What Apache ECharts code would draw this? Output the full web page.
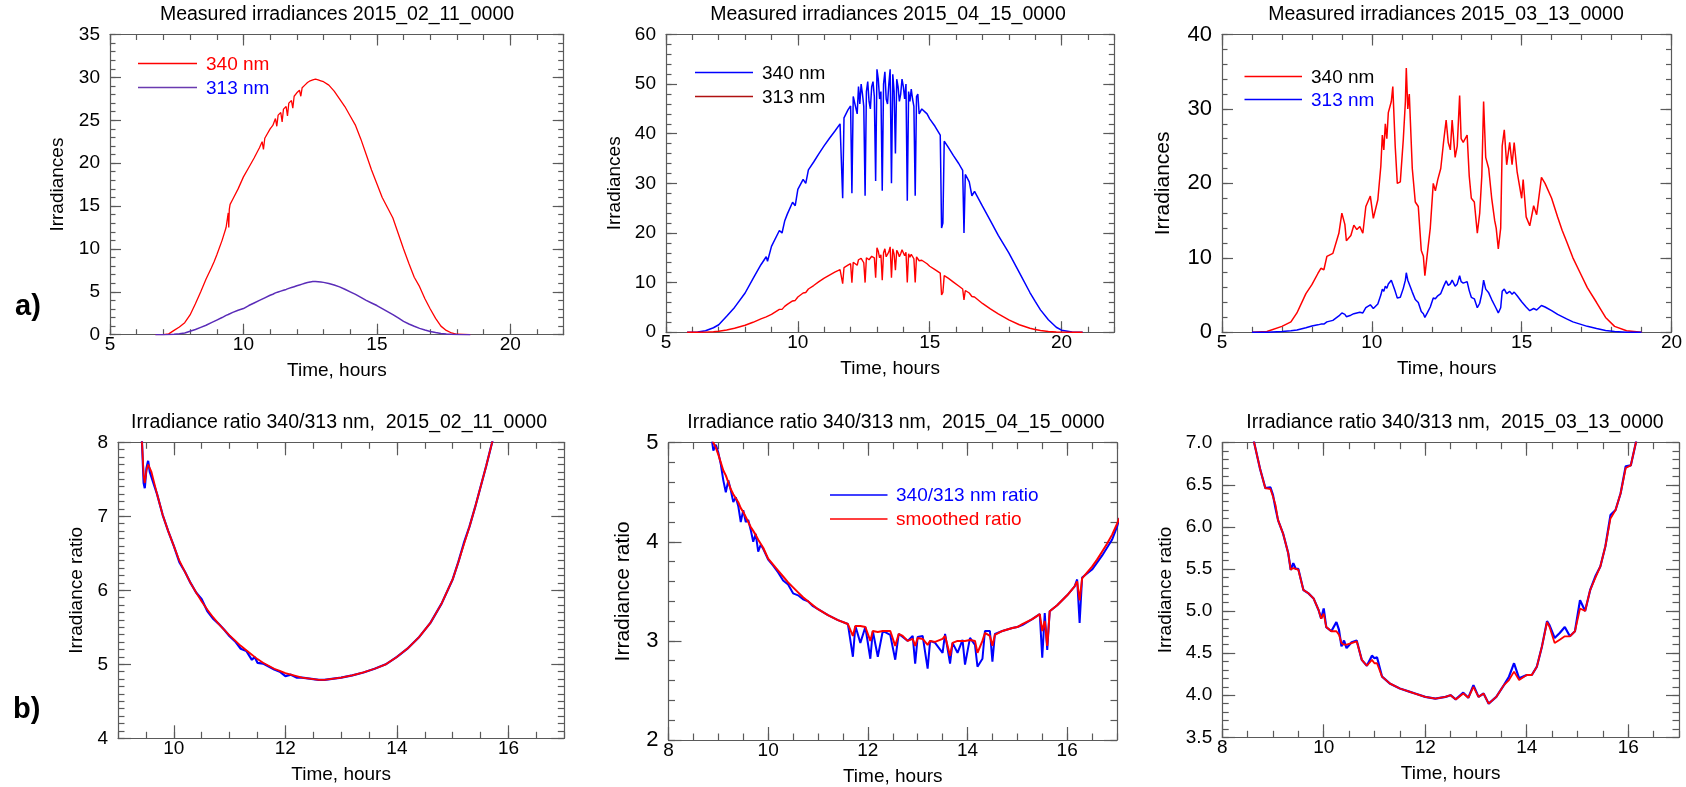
<!DOCTYPE html>
<html><head><meta charset="utf-8">
<script src="https://cdn.jsdelivr.net/npm/echarts@6/dist/echarts.min.js"></script>
<style>html,body{margin:0;padding:0;background:#fff}#chart{width:1686px;height:787px}</style>
</head><body><div id="chart"></div>
<script>
// ---------------- DATA ----------------
// Panel 1: Measured irradiances 2015_02_11
const febTime = [6.7,7.0,7.2,7.4,7.6,7.8,8.0,8.2,8.4,8.6,8.8,8.9,9.0,9.2,9.35,9.43,9.45,9.47,9.5,9.6,9.8,10.0,10.2,10.4,10.6,10.7,10.75,10.8,11.0,11.1,11.2,11.25,11.3,11.4,11.45,11.5,11.6,11.65,11.7,11.8,11.85,11.9,12.0,12.1,12.15,12.2,12.3,12.4,12.5,12.6,12.7,12.8,12.9,13.0,13.2,13.4,13.6,13.8,14.0,14.2,14.4,14.6,14.8,15.0,15.2,15.4,15.6,15.8,16.0,16.2,16.4,16.6,16.8,17.0,17.2,17.4,17.6,17.8,18.0,18.5];
const febIrr340 = [0,0,0.1,0.5,0.9,1.4,2.3,3.6,5.0,6.5,7.8,8.5,9.3,11.0,12.5,14.2,12.5,14.6,15.2,15.8,17.0,18.4,19.5,20.6,21.8,22.5,21.6,22.9,24.0,24.4,25.2,24.3,25.6,25.9,24.8,26.3,26.6,25.5,27.0,27.3,26.4,27.8,28.2,28.5,27.8,28.8,29.1,29.4,29.6,29.7,29.8,29.7,29.6,29.5,29.1,28.4,27.5,26.6,25.5,24.4,22.8,21.0,19.2,17.6,16.0,14.8,13.6,11.8,10.0,8.3,6.7,5.6,4.2,3.0,1.9,1.0,0.5,0.2,0.05,0];
const febIrr313 = [0,0,0.02,0.05,0.1,0.2,0.4,0.6,0.85,1.1,1.4,1.55,1.7,2.0,2.25,2.35,2.3,2.4,2.45,2.6,2.85,3.05,3.4,3.7,4.0,4.15,4.15,4.3,4.6,4.72,4.88,4.9,4.98,5.08,5.1,5.18,5.28,5.3,5.4,5.5,5.52,5.6,5.7,5.8,5.82,5.9,6.0,6.08,6.15,6.2,6.2,6.18,6.15,6.1,5.98,5.8,5.58,5.3,5.0,4.7,4.35,4.0,3.7,3.4,3.05,2.7,2.35,1.95,1.55,1.25,0.98,0.74,0.54,0.38,0.25,0.15,0.08,0.04,0.02,0];

// Panel 2: Measured irradiances 2015_04_15
const aprTime = [5.8,6.2,6.5,6.8,7.0,7.3,7.6,8.0,8.3,8.6,8.8,8.85,9.0,9.3,9.4,9.5,9.6,9.8,9.9,10.0,10.2,10.3,10.4,10.6,10.8,11.0,11.2,11.4,11.6,11.7,11.75,11.9,12.0,12.05,12.1,12.25,12.3,12.35,12.4,12.45,12.5,12.55,12.6,12.65,12.7,12.75,12.8,12.85,12.9,12.95,13.0,13.05,13.1,13.15,13.2,13.25,13.3,13.35,13.4,13.45,13.5,13.55,13.6,13.65,13.7,13.75,13.8,13.85,13.9,13.95,14.0,14.05,14.1,14.15,14.2,14.25,14.3,14.35,14.4,14.45,14.5,14.55,14.6,14.7,14.9,15.0,15.2,15.4,15.45,15.5,15.55,15.7,15.9,16.1,16.25,16.3,16.35,16.5,16.6,16.7,17.0,17.3,17.6,18.0,18.4,18.8,19.0,19.2,19.5,19.8,20.0,20.4,20.8];
const aprIrr340 = [0,0.05,0.3,0.9,1.5,3.2,5.0,7.9,10.8,13.6,15.2,14.3,17.3,20.5,20.0,22.4,23.8,26.2,25.5,28.8,30.8,30.0,32.7,34.3,36.0,37.6,39.1,40.5,42.0,27.0,43.2,44.8,45.6,28.0,47.5,44.0,49.5,46.0,50.0,48.0,45.5,27.5,48.5,50.5,46.5,45.0,49.5,50.5,47.5,30.5,53.0,51.0,47.0,48.5,28.5,50.0,52.5,47.0,46.0,50.0,53.0,30.0,52.0,48.5,36.0,51.0,49.5,46.5,48.0,51.0,49.5,47.0,50.0,26.5,48.5,46.5,49.0,47.0,45.5,27.5,47.5,48.0,44.0,45.0,44.0,43.0,41.5,39.7,21.0,22.0,38.5,37.3,35.6,34.0,32.6,20.0,31.8,30.3,27.5,28.4,25.4,22.5,19.5,16.0,12.0,8.0,6.2,4.5,2.5,1.0,0.4,0.05,0];
const aprIrr313 = [0,0,0.02,0.1,0.2,0.45,0.8,1.4,2.0,2.7,3.1,2.9,3.6,4.6,4.6,5.2,5.6,6.3,6.4,7.1,7.9,8.0,8.7,9.4,10.2,10.9,11.5,12.1,12.6,9.8,13.0,13.5,13.8,10.0,14.1,13.5,14.6,14.2,14.9,14.5,14.0,10.0,15.0,15.4,14.6,14.2,15.3,15.6,15.0,11.0,17.0,16.3,15.0,15.6,10.5,16.0,16.8,15.2,15.0,16.2,17.2,11.0,16.8,15.7,12.5,16.5,16.0,15.2,15.8,16.6,16.2,15.4,16.1,10.0,15.8,15.1,15.7,15.3,14.8,10.0,15.2,15.1,14.4,14.5,13.8,13.3,12.6,11.9,7.5,8.0,11.4,10.9,10.1,9.3,8.7,6.5,8.4,7.9,7.2,7.1,5.8,4.7,3.7,2.5,1.5,0.8,0.55,0.35,0.15,0.05,0.02,0,0];

// Panel 3: Measured irradiances 2015_03_13
const marTime = [6.0,6.5,7.0,7.3,7.5,7.8,8.0,8.2,8.3,8.4,8.5,8.7,8.9,9.0,9.1,9.15,9.3,9.4,9.5,9.6,9.7,9.8,9.95,10.05,10.2,10.3,10.35,10.4,10.45,10.5,10.55,10.65,10.7,10.78,10.85,10.95,11.05,11.12,11.15,11.2,11.25,11.35,11.45,11.55,11.65,11.72,11.77,11.85,11.95,12.05,12.12,12.2,12.3,12.4,12.48,12.55,12.62,12.68,12.78,12.85,12.93,12.98,13.05,13.18,13.25,13.32,13.42,13.52,13.6,13.67,13.73,13.8,13.9,14.0,14.1,14.15,14.22,14.3,14.35,14.42,14.5,14.6,14.68,14.75,14.85,15.0,15.05,15.15,15.27,15.4,15.5,15.66,15.78,16.0,16.2,16.35,16.5,16.71,16.95,17.19,17.5,17.8,18.1,18.5,19.0];
const marIrr340 = [0,0.1,0.8,1.4,2.6,5.2,6.4,7.9,8.6,8.4,10.2,10.6,13.3,16.0,14.5,12.3,13.0,14.4,13.8,14.2,13.3,16.9,18.3,15.3,17.8,22.3,26.5,24.5,28.0,26.0,29.5,31.0,33.0,25.0,20.0,20.2,25.9,31.0,35.5,30.0,32.0,22.0,17.5,16.9,11.0,10.2,7.6,10.5,14.0,20.0,19.0,20.5,22.0,25.8,28.5,25.5,24.5,28.5,23.5,25.0,31.8,26.0,25.5,26.5,21.0,18.0,17.5,13.3,16.0,21.0,31.0,23.5,22.0,18.0,15.0,14.0,11.2,14.0,25.0,27.2,22.5,25.5,22.5,25.5,21.5,18.0,20.5,15.5,14.3,17.0,15.8,20.8,20.0,18.0,15.5,13.7,12.2,10.0,8.0,6.0,4.0,2.0,0.8,0.2,0];
const marIrr313 = [0,0,0.1,0.2,0.3,0.6,0.85,1.0,1.1,1.1,1.4,1.6,2.2,2.6,2.4,2.1,2.3,2.5,2.6,2.7,2.6,3.3,3.7,3.2,3.8,5.0,5.8,5.5,6.2,5.9,6.5,7.0,7.2,5.5,4.6,4.7,5.9,7.0,8.0,7.0,7.2,5.4,4.4,4.0,2.8,2.5,2.0,2.6,3.4,4.6,4.5,4.9,5.2,6.2,6.9,6.3,6.5,7.0,6.2,6.5,7.6,6.8,6.6,6.8,5.6,4.7,4.5,3.3,3.9,5.2,7.0,5.8,5.3,4.4,3.6,3.2,2.6,3.3,5.5,5.8,5.2,5.5,5.1,5.4,4.9,4.1,4.2,3.4,2.9,3.2,3.0,3.6,3.4,2.9,2.4,2.1,1.8,1.4,1.1,0.8,0.5,0.25,0.1,0.02,0];

// Panel 4: Irradiance ratio 2015_02_11
const febRatioTime = [9.40,9.43,9.46,9.48,9.51,9.54,9.57,9.6,9.7,9.8,9.9,10.0,10.1,10.2,10.3,10.4,10.5,10.6,10.7,10.8,10.9,11.0,11.1,11.2,11.3,11.4,11.45,11.5,11.6,11.7,11.8,11.9,12.0,12.1,12.2,12.3,12.4,12.5,12.6,12.7,12.8,12.9,13.0,13.2,13.4,13.6,13.8,14.0,14.2,14.4,14.6,14.8,15.0,15.1,15.2,15.3,15.4,15.5,15.6,15.7,15.8];
const febRatioRaw = [8.6,8.0,7.45,7.38,7.65,7.75,7.6,7.62,7.3,7.02,6.8,6.6,6.38,6.25,6.1,5.97,5.88,5.72,5.62,5.55,5.47,5.38,5.31,5.21,5.18,5.06,5.1,5.02,5.01,4.97,4.93,4.9,4.84,4.86,4.82,4.82,4.81,4.8,4.79,4.79,4.8,4.81,4.82,4.85,4.89,4.94,5.0,5.1,5.22,5.37,5.56,5.82,6.15,6.38,6.64,6.86,7.12,7.4,7.68,7.98,8.3];
const febRatioSmooth = [8.6,8.0,7.55,7.45,7.62,7.7,7.65,7.6,7.3,7.02,6.8,6.6,6.4,6.25,6.1,5.97,5.85,5.74,5.64,5.55,5.47,5.39,5.32,5.25,5.19,5.13,5.1,5.07,5.02,4.98,4.94,4.91,4.88,4.86,4.84,4.82,4.81,4.8,4.79,4.79,4.8,4.81,4.82,4.85,4.89,4.94,5.0,5.1,5.22,5.37,5.56,5.82,6.15,6.38,6.62,6.86,7.12,7.4,7.68,7.98,8.3];

// Panel 5: Irradiance ratio 2015_04_15
const aprRatioTime = [8.85,8.9,8.95,9.0,9.05,9.1,9.15,9.2,9.25,9.3,9.35,9.4,9.45,9.5,9.55,9.6,9.65,9.7,9.75,9.8,9.85,9.9,10.0,10.1,10.2,10.3,10.4,10.5,10.6,10.7,10.8,10.9,11.0,11.2,11.4,11.6,11.7,11.75,11.85,11.95,12.05,12.1,12.2,12.3,12.45,12.55,12.62,12.7,12.8,12.9,12.95,13.0,13.1,13.2,13.25,13.35,13.5,13.55,13.65,13.7,13.8,13.9,13.95,14.05,14.15,14.2,14.3,14.35,14.45,14.5,14.55,14.7,14.9,15.0,15.1,15.3,15.45,15.5,15.55,15.6,15.65,15.8,16.0,16.15,16.2,16.25,16.3,16.5,16.6,16.7,16.8,16.9,17.0,17.05];
const aprRatioRaw = [5.1,4.92,4.98,4.9,4.78,4.62,4.5,4.62,4.52,4.4,4.45,4.36,4.2,4.32,4.2,4.22,4.12,4.0,4.08,3.9,3.97,3.93,3.82,3.76,3.69,3.61,3.57,3.48,3.46,3.42,3.4,3.35,3.32,3.26,3.21,3.17,2.84,3.15,2.98,3.14,2.82,3.1,2.84,3.1,3.06,2.81,3.07,3.04,3.0,3.05,2.77,3.04,3.05,2.72,3.0,2.98,2.88,3.07,2.77,2.98,2.88,3.01,2.76,3.03,2.96,2.74,2.82,3.1,3.1,2.79,3.07,3.1,3.13,3.14,3.16,3.22,3.27,2.83,3.28,2.91,3.3,3.36,3.46,3.55,3.62,3.18,3.64,3.72,3.79,3.86,3.94,4.02,4.15,4.24];
const aprRatioSmooth = [5.1,5.0,4.95,4.88,4.8,4.72,4.67,4.6,4.53,4.48,4.44,4.4,4.34,4.3,4.25,4.2,4.15,4.11,4.07,4.02,3.98,3.94,3.83,3.77,3.71,3.65,3.59,3.54,3.49,3.44,3.4,3.36,3.32,3.26,3.21,3.17,3.05,3.15,3.15,3.14,3.0,3.1,3.09,3.1,3.1,2.95,3.07,3.05,3.0,3.02,2.95,3.03,3.02,2.96,3.0,2.99,3.02,3.05,2.85,2.98,3.0,3.0,3.0,3.01,3.0,2.88,3.0,3.08,3.05,2.95,3.06,3.1,3.13,3.14,3.17,3.22,3.27,3.1,3.2,2.95,3.3,3.36,3.46,3.55,3.6,3.41,3.63,3.75,3.82,3.9,3.98,4.07,4.18,4.24];

// Panel 6: Irradiance ratio 2015_03_13
const marRatioTime = [8.6,8.63,8.75,8.85,8.95,9.0,9.05,9.1,9.2,9.3,9.35,9.4,9.45,9.5,9.6,9.7,9.8,9.9,9.95,10.0,10.05,10.15,10.25,10.3,10.35,10.4,10.45,10.55,10.65,10.75,10.85,10.95,11.0,11.05,11.15,11.3,11.5,11.7,11.8,12.0,12.2,12.4,12.5,12.6,12.75,12.85,12.95,13.05,13.15,13.25,13.4,13.55,13.65,13.75,13.85,14.0,14.1,14.2,14.3,14.4,14.45,14.55,14.65,14.75,14.85,14.95,15.05,15.15,15.25,15.35,15.45,15.55,15.65,15.75,15.85,15.95,16.05,16.15,16.2];
const marRatioRaw = [7.15,7.0,6.68,6.46,6.47,6.38,6.22,6.08,5.92,5.69,5.49,5.57,5.5,5.5,5.25,5.21,5.15,5.01,4.91,5.03,4.81,4.76,4.87,4.78,4.58,4.65,4.56,4.63,4.65,4.42,4.35,4.47,4.44,4.45,4.22,4.14,4.08,4.04,4.02,3.98,3.96,3.98,4.0,3.95,4.03,3.97,4.12,3.98,4.02,3.9,3.98,4.12,4.22,4.38,4.2,4.24,4.24,4.34,4.58,4.88,4.83,4.68,4.74,4.81,4.7,4.76,5.13,5.0,5.25,5.41,5.53,5.77,6.14,6.2,6.4,6.72,6.73,7.0,7.2];
const marRatioSmooth = [7.15,7.0,6.68,6.46,6.45,6.36,6.26,6.08,5.92,5.69,5.49,5.51,5.5,5.49,5.25,5.21,5.15,5.01,4.91,4.97,4.81,4.76,4.76,4.72,4.62,4.6,4.6,4.62,4.64,4.42,4.35,4.42,4.38,4.38,4.22,4.14,4.08,4.04,4.02,3.98,3.96,3.98,4.0,3.95,4.02,3.97,4.1,3.98,4.02,3.9,3.98,4.12,4.18,4.28,4.18,4.24,4.24,4.34,4.58,4.87,4.81,4.62,4.66,4.7,4.7,4.76,5.03,5.0,5.25,5.39,5.53,5.77,6.1,6.2,6.4,6.7,6.73,7.0,7.2];

// Tick values
const irrXTicks = [5, 10, 15, 20];
const febIrrYTicks = [0, 5, 10, 15, 20, 25, 30, 35];
const aprIrrYTicks = [0, 10, 20, 30, 40, 50, 60];
const marIrrYTicks = [0, 10, 20, 30, 40];
const febRatioXTicks = [10, 12, 14, 16];
const ratioXTicks = [8, 10, 12, 14, 16];
const febRatioYTicks = [4, 5, 6, 7, 8];
const aprRatioYTicks = [2, 3, 4, 5];
const marRatioYTicks = [3.5, 4.0, 4.5, 5.0, 5.5, 6.0, 6.5, 7.0];

const titles = [
  'Measured irradiances 2015_02_11_0000',
  'Measured irradiances 2015_04_15_0000',
  'Measured irradiances 2015_03_13_0000',
  'Irradiance ratio 340/313 nm,  2015_02_11_0000',
  'Irradiance ratio 340/313 nm,  2015_04_15_0000',
  'Irradiance ratio 340/313 nm,  2015_03_13_0000'
];

// ---------------- LAYOUT / STYLE ----------------
const FONT = '"Liberation Sans", Arial, Helvetica, sans-serif';
const AX = '#5a5a5a';
const RED = '#ff0000', BLUE = '#0000ff';

const grids = [
  {left:110, top:34.5, width:453.7, height:300.2},
  {left:666, top:34.5, width:448.3, height:297.7},
  {left:1222, top:34.5, width:449.5, height:297.8},
  {left:118, top:442.3, width:446.3, height:296},
  {left:668.5, top:442.7, width:448.5, height:297.3},
  {left:1222.2, top:442.7, width:456.8, height:294.6}
];

const axisCfg = [
  {xMin:5, xMax:22, xTicks:irrXTicks, xMinor:1, yMin:0, yMax:35, yTicks:febIrrYTicks, yMinor:1, yName:'Irradiances', yFont:19, yNameFont:19, yNameGap:43, major:11, minor:5.5},
  {xMin:5, xMax:22, xTicks:irrXTicks, xMinor:1, yMin:0, yMax:60, yTicks:aprIrrYTicks, yMinor:2, yName:'Irradiances', yFont:19, yNameFont:19, yNameGap:42, major:11, minor:5.5},
  {xMin:5, xMax:20, xTicks:irrXTicks, xMinor:1, yMin:0, yMax:40, yTicks:marIrrYTicks, yMinor:2, yName:'Irradiances', yFont:22, yNameFont:21, yNameGap:48, major:11, minor:5.5},
  {xMin:9, xMax:17, xTicks:febRatioXTicks, xMinor:0.5, yMin:4, yMax:8, yTicks:febRatioYTicks, yMinor:0.1, yName:'Irradiance ratio', yFont:19, yNameFont:19, yNameGap:32, major:13, minor:6.5},
  {xMin:8, xMax:17, xTicks:ratioXTicks, xMinor:0.5, yMin:2, yMax:5, yTicks:aprRatioYTicks, yMinor:0.2, yName:'Irradiance ratio', yFont:22, yNameFont:21, yNameGap:35, major:13, minor:6.5},
  {xMin:8, xMax:17, xTicks:ratioXTicks, xMinor:0.5, yMin:3.5, yMax:7, yTicks:marRatioYTicks, yMinor:0.1, yName:'Irradiance ratio', yFont:19, yNameFont:19, yNameGap:47, major:13, minor:6.5, yFmt: v => Number(v).toFixed(1)}
];

const xAxes = [], yAxes = [];
axisCfg.forEach((c, gi) => {
  const tickLine = {color: AX, width: 1.2};
  ['bottom', 'top'].forEach((pos, k) => {
    xAxes.push({
      type:'value', gridIndex:gi, position:pos, min:c.xMin, max:c.xMax,
      axisLine:{show:true, onZero:false, lineStyle:{color:AX, width:1.2}},
      axisTick:{show:true, inside:true, length:c.major, customValues:c.xTicks, lineStyle:tickLine},
      axisLabel: k === 0 ? {show:true, customValues:c.xTicks, margin:1, fontSize:19, color:'#000', fontFamily:FONT} : {show:false},
      splitLine:{show:false}, minorTick:{show:false},
      name: k === 0 ? 'Time, hours' : '', nameLocation:'middle', nameGap:27, nameMoveOverlap:false,
      nameTextStyle:{fontSize:19, color:'#000', fontFamily:FONT}
    });
    xAxes.push({
      type:'value', gridIndex:gi, position:pos, min:c.xMin, max:c.xMax, interval:c.xMinor,
      axisLine:{show:false, onZero:false},
      axisTick:{show:true, inside:true, length:c.minor, lineStyle:tickLine},
      axisLabel:{show:false}, splitLine:{show:false}
    });
  });
  ['left', 'right'].forEach((pos, k) => {
    yAxes.push({
      type:'value', gridIndex:gi, position:pos, min:c.yMin, max:c.yMax,
      axisLine:{show:true, onZero:false, lineStyle:{color:AX, width:1.2}},
      axisTick:{show:true, inside:true, length:c.major, customValues:c.yTicks, lineStyle:tickLine},
      axisLabel: k === 0 ? {show:true, customValues:c.yTicks, margin:10, fontSize:c.yFont, color:'#000', fontFamily:FONT, formatter:c.yFmt || (v => String(v))} : {show:false},
      splitLine:{show:false},
      name: k === 0 ? c.yName : '', nameLocation:'middle', nameGap:c.yNameGap, nameMoveOverlap:false,
      nameTextStyle:{fontSize:c.yNameFont, color:'#000', fontFamily:FONT}
    });
    yAxes.push({
      type:'value', gridIndex:gi, position:pos, min:c.yMin, max:c.yMax, interval:c.yMinor,
      axisLine:{show:false, onZero:false},
      axisTick:{show:true, inside:true, length:c.minor, lineStyle:tickLine},
      axisLabel:{show:false}, splitLine:{show:false}
    });
  });
});

function pairs(t, v) { return t.map((x, i) => [x, v[i]]); }
function line(gi, name, t, v, color, width, z) {
  return {
    type:'line', name, xAxisIndex:gi*4, yAxisIndex:gi*4, data:pairs(t, v),
    showSymbol:false, symbol:'none', clip:true, silent:true, animation:false,
    lineStyle:{color, width}, itemStyle:{color}, z: z || 2
  };
}

const series = [
  line(0, '340 nm (Feb)', febTime, febIrr340, RED, 1.3),
  line(0, '313 nm (Feb)', febTime, febIrr313, '#5a2cb8', 1.5),
  line(1, '340 nm (Apr)', aprTime, aprIrr340, BLUE, 1.5),
  line(1, '313 nm (Apr)', aprTime, aprIrr313, RED, 1.4),
  line(2, '340 nm (Mar)', marTime, marIrr340, RED, 1.5),
  line(2, '313 nm (Mar)', marTime, marIrr313, BLUE, 1.5),
  line(3, 'ratio (Feb)', febRatioTime, febRatioRaw, BLUE, 2.2),
  line(3, 'smoothed (Feb)', febRatioTime, febRatioSmooth, RED, 1.8, 3),
  line(4, '340/313 nm ratio', aprRatioTime, aprRatioRaw, BLUE, 2.0),
  line(4, 'smoothed ratio', aprRatioTime, aprRatioSmooth, RED, 2.0, 3),
  line(5, 'ratio (Mar)', marRatioTime, marRatioRaw, BLUE, 2.2),
  line(5, 'smoothed (Mar)', marRatioTime, marRatioSmooth, RED, 1.8, 3)
];

const titleCenters = [337, 888, 1446, 339, 896, 1455];
const titleTops = [5, 5, 5, 413, 413, 413];
const titleOpts = titles.map((t, i) => ({
  text:t, left:titleCenters[i], top:titleTops[i], textAlign:'center', padding:0,
  textStyle:{fontSize:19.5, fontWeight:'normal', color:'#000', fontFamily:FONT}
}));

// legends drawn as graphic (line sample + label)
const legendItems = [
  {x1:138, x2:197, y:63.5, color:RED, text:'340 nm', tcolor:RED, tx:206},
  {x1:138, x2:197, y:87.5, color:'#6a3ab0', text:'313 nm', tcolor:BLUE, tx:206},
  {x1:695, x2:753, y:72.5, color:BLUE, text:'340 nm', tcolor:'#000', tx:762},
  {x1:695, x2:753, y:96.5, color:'#b01010', text:'313 nm', tcolor:'#000', tx:762},
  {x1:1244.5, x2:1302, y:76.5, color:RED, text:'340 nm', tcolor:'#000', tx:1311},
  {x1:1244.5, x2:1302, y:99.5, color:BLUE, text:'313 nm', tcolor:BLUE, tx:1311},
  {x1:830, x2:887.5, y:495, color:BLUE, text:'340/313 nm ratio', tcolor:BLUE, tx:896},
  {x1:830, x2:887.5, y:519, color:RED, text:'smoothed ratio', tcolor:RED, tx:896}
];
const graphics = [];
legendItems.forEach(it => {
  graphics.push({type:'line', shape:{x1:it.x1, y1:it.y, x2:it.x2, y2:it.y}, style:{stroke:it.color, lineWidth:1.3}, silent:true, z:10});
  graphics.push({type:'text', x:it.tx, y:it.y + 1, style:{text:it.text, fill:it.tcolor, font:'19px ' + FONT, verticalAlign:'middle', align:'left'}, silent:true, z:10});
});
graphics.push({type:'text', x:15, y:307, style:{text:'a)', fill:'#000', font:'bold 29px ' + FONT, verticalAlign:'middle', align:'left'}, silent:true});
graphics.push({type:'text', x:13, y:710, style:{text:'b)', fill:'#000', font:'bold 29px ' + FONT, verticalAlign:'middle', align:'left'}, silent:true});

const chart = echarts.init(document.getElementById('chart'), null, {renderer:'canvas', width:1686, height:787});
chart.setOption({
  backgroundColor:'#ffffff',
  animation:false,
  title:titleOpts,
  grid:grids.map(g => Object.assign({containLabel:false, outerBoundsMode:'none'}, g)),
  xAxis:xAxes,
  yAxis:yAxes,
  series:series,
  graphic:graphics
});
</script></body></html>
